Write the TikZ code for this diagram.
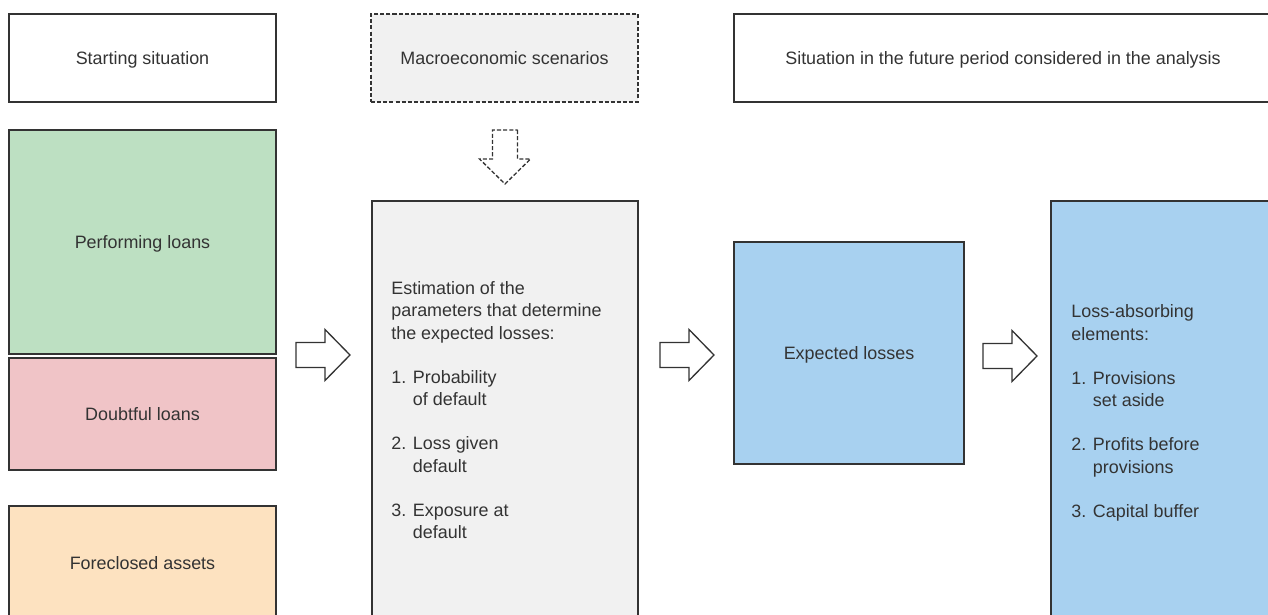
\documentclass[tikz,border=0pt]{standalone}
\usepackage{fontspec}
\setmainfont{Liberation Sans}
\usetikzlibrary{arrows.meta,positioning}
\definecolor{perfgreen}{HTML}{BDE0C2}
\definecolor{doubtpink}{HTML}{F0C4C7}
\definecolor{forepeach}{HTML}{FDE2C0}
\definecolor{estgray}{HTML}{F1F1F1}
\definecolor{lossblue}{HTML}{A8D1F0}
\definecolor{ink}{HTML}{333333}
\newdimen\px \px=0.02cm
\newcommand{\lbl}{\fontsize{10.2}{12.8}\selectfont}
\tikzset{
  pics/blockarr/.style={code={
    \draw[arrline] (0,-12.5) -- (29,-12.5) -- (29,-25.5) -- (54,0)
      -- (29,25.5) -- (29,12.5) -- (0,12.5) -- cycle;}}
}

\begin{document}
\begin{tikzpicture}[
    x=0.02cm, y=-0.02cm,
    box/.style={draw=ink, line width=0.75pt, text=ink, font=\lbl,
                inner sep=0pt, align=center, text depth=0pt},
    hdr/.style={box, fill=white, minimum height=88\px},
    txt/.style={text=ink, font=\lbl, align=left, anchor=north west, inner sep=0pt},
    arrline/.style={draw=ink, line width=0.75pt, fill=white, line join=miter}
  ]
  \clip (0,0) rectangle (1268,615);
  % --- Header row ---
  \node[hdr, minimum width=267\px] (start) at (142.5,58) {Starting situation};
  \node[hdr, minimum width=267\px, fill=estgray, dash pattern=on 2.3pt off 1.2pt]
    (macro) at (504.5,58) {Macroeconomic scenarios};
  \node[hdr, minimum width=538\px] (future) at (1003,58)
    {Situation in the future period considered in the analysis};
  % --- Starting portfolio ---
  \node[box, fill=perfgreen, minimum width=267\px, minimum height=224\px]
    (perf) at (142.5,242) {Performing loans};
  \node[box, fill=doubtpink, minimum width=267\px, minimum height=112\px]
    (doubt) at (142.5,414) {Doubtful loans};
  \node[box, fill=forepeach, minimum width=267\px, minimum height=114\px]
    (fore) at (142.5,563) {Foreclosed assets};
  % --- Parameters ---
  \node[box, fill=estgray, minimum width=266\px, minimum height=429\px]
    (est) at (505,415.5) {};
  \node[txt] (esttxt) at (391,281)
    {Estimation of the\\ parameters that determine\\ the expected losses:\\[12.2pt]
     1. Probability\\ \phantom{1. }of default\\[12.2pt]
     2. Loss given\\ \phantom{2. }default\\[12.2pt]
     3. Exposure at\\ \phantom{3. }default};
  % --- Losses and absorbing elements ---
  \node[box, fill=lossblue, minimum width=230\px, minimum height=222\px]
    (exp) at (849,353) {Expected losses};
  \node[box, fill=lossblue, minimum width=240\px, minimum height=429\px]
    (loss) at (1171,415.5) {};
  \node[txt] (losstxt) at (1071,304.5)
    {Loss-absorbing\\ elements:\\[12.2pt]
     1. Provisions\\ \phantom{1. }set aside\\[12.2pt]
     2. Profits before\\ \phantom{2. }provisions\\[12.2pt]
     3. Capital buffer};
  % --- Block arrows ---
  \pic[rotate=-90, dash pattern=on 2.3pt off 1.2pt] at (505,130) {blockarr};
  \pic at (296,355) {blockarr};
  \pic at (660,355) {blockarr};
  \pic at (983,356) {blockarr};
\end{tikzpicture}
\end{document}
